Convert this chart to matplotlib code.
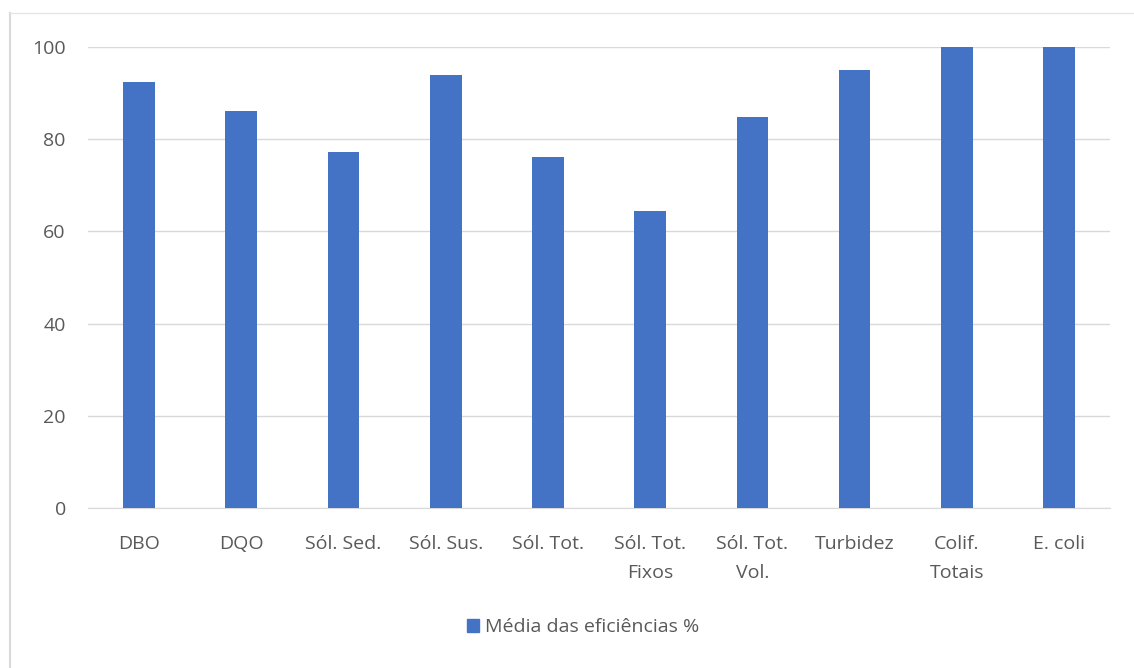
import matplotlib
matplotlib.use("Agg")
import matplotlib.pyplot as plt
import matplotlib.transforms as mtransforms
from matplotlib.lines import Line2D
from matplotlib.patches import Patch

# Data
categories = ["DBO", "DQO", "Sól. Sed.", "Sól. Sus.", "Sól. Tot.",
              "Sól. Tot.\nFixos", "Sól. Tot.\nVol.", "Turbidez",
              "Colif.\nTotais", "E. coli"]
efficiency = [92.3, 86.1, 77.2, 93.9, 76.0, 64.4, 84.7, 95.0, 99.9, 99.9]
yticks = [0, 20, 40, 60, 80, 100]

BAR_COLOR = "#4472C4"
TEXT_COLOR = "#595959"
GRID_COLOR = "#D9D9D9"
FONT_SIZE = 14

plt.rcParams["font.family"] = ["Open Sans", "DejaVu Sans"]

fig = plt.figure(figsize=(11.34, 6.68), dpi=100)
ax = fig.add_axes([0.0776, 0.2395, 0.9014, 0.6905])

x = list(range(len(categories)))
ax.bar(x, efficiency, width=0.31, color=BAR_COLOR, zorder=3)

ax.set_xlim(-0.5, len(categories) - 0.5)
ax.set_ylim(0, 100)
ax.set_yticks(yticks)
ax.set_xticks(x)
ax.set_xticklabels([])
ax.tick_params(axis="y", labelsize=FONT_SIZE, labelcolor=TEXT_COLOR,
               length=0, pad=16)
ax.tick_params(axis="x", length=0)

# category labels: each line on a shared baseline so accents don't shift them
trans = mtransforms.blended_transform_factory(ax.transData, ax.transAxes)
for xi, label in zip(x, categories):
    for i, line in enumerate(label.split("\n")):
        offset = mtransforms.ScaledTranslation(0, -(29.5 + 21 * i) / 72,
                                               fig.dpi_scale_trans)
        ax.text(xi, 0, line, transform=trans + offset, ha="center",
                va="baseline", fontsize=FONT_SIZE, color=TEXT_COLOR)

ax.grid(axis="y", color=GRID_COLOR, linewidth=1, zorder=0)
for side in ["top", "right", "left"]:
    ax.spines[side].set_visible(False)
ax.spines["bottom"].set_color(GRID_COLOR)

handles = [Patch(color=BAR_COLOR, label="Média das eficiências %")]
fig.legend(handles=handles, loc="center", bbox_to_anchor=(0.514, 0.061),
           frameon=False, fontsize=FONT_SIZE, labelcolor=TEXT_COLOR,
           handlelength=0.6, handleheight=0.6, handletextpad=0.3)

# faint frame lines at the left and top of the chart area
fig.add_artist(Line2D([0.009, 0.009], [0.0, 0.981], transform=fig.transFigure,
                      color="#D9D9D9", linewidth=1.5))
fig.add_artist(Line2D([0.009, 1.0], [0.981, 0.981], transform=fig.transFigure,
                      color="#E6E6E6", linewidth=1))

fig.savefig("out.png", dpi=100)
